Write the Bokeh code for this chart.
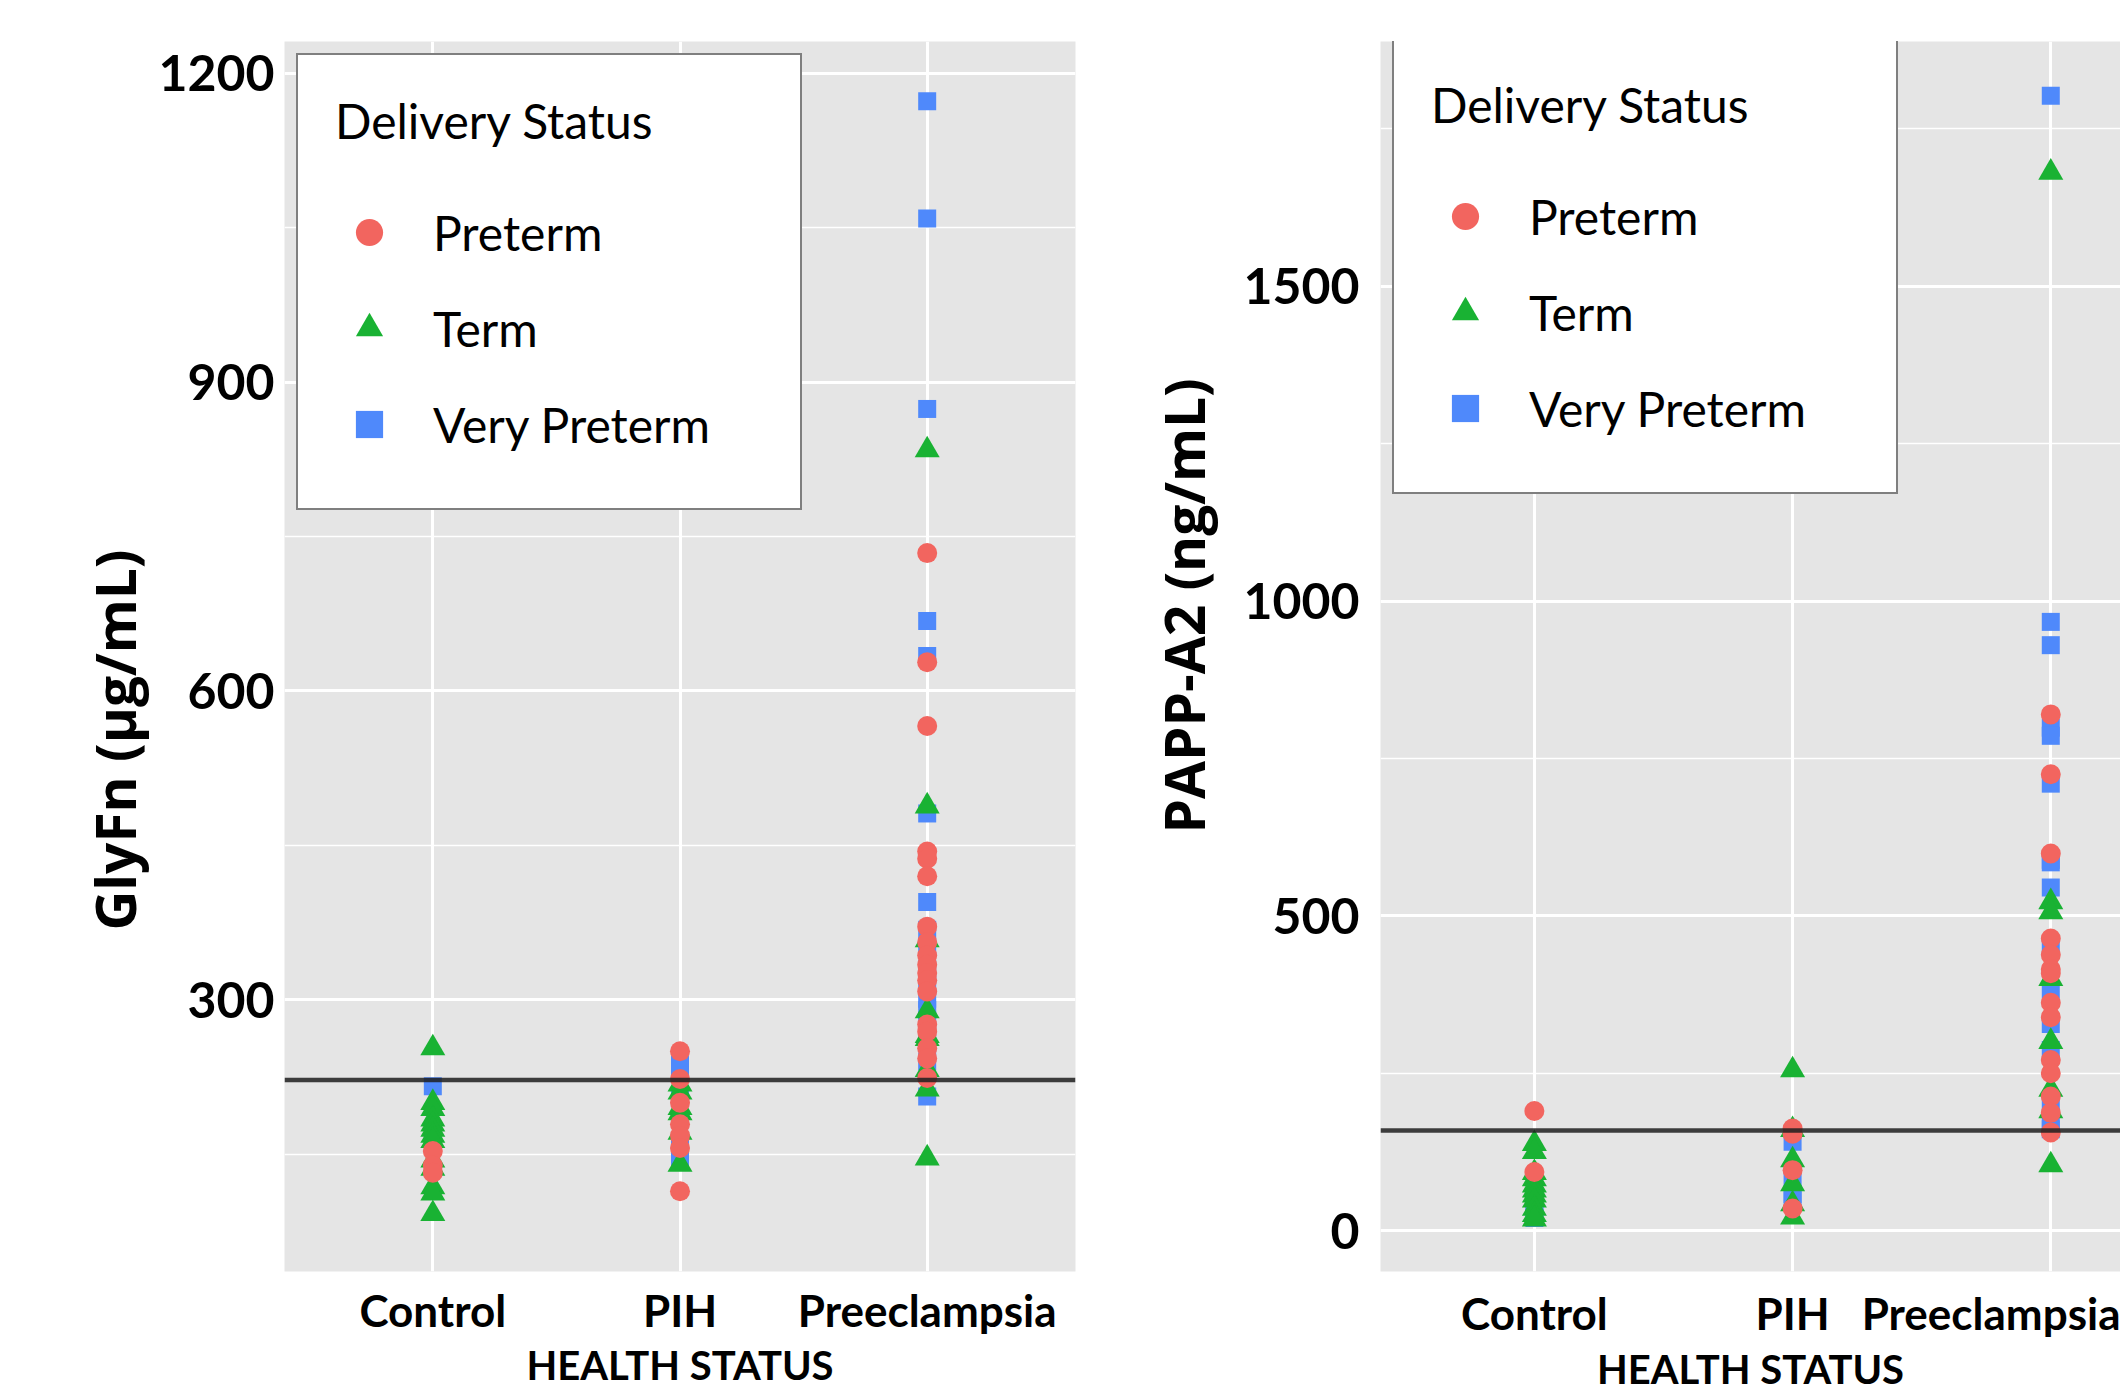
from bokeh.plotting import figure
from bokeh.models import Range1d, FixedTicker, Span, Legend, LegendItem, Title
from bokeh.layouts import row
from bokeh.embed import file_html
from bokeh.resources import INLINE

categories = ["Control", "PIH", "Preeclampsia"]
groups = ["Preterm", "Term", "Very Preterm"]
group_colors = ["#F2655F", "#19B233", "#4F89FB"]
group_markers = ["circle", "triangle", "square"]

# ---- Left panel: GlyFn (µg/mL) ----
glyfn_control_preterm = [153, 139, 132]
glyfn_control_term = [253, 200, 194, 184, 179, 174, 168, 163, 144, 136, 118, 112, 92]
glyfn_control_verypreterm = [216, 166]
glyfn_pih_preterm = [250, 223, 200, 179, 168, 156, 114]
glyfn_pih_term = [218, 210, 195, 190, 171, 140]
glyfn_pih_verypreterm = [237, 228, 205, 161, 144]
glyfn_pe_preterm = [734, 628, 566, 444, 437, 420, 371, 356, 343, 334, 326, 319, 308,
                    276, 269, 253, 243, 224]
glyfn_pe_term = [834, 488, 358, 289, 265, 262, 232, 213, 146]
glyfn_pe_verypreterm = [1173, 1059, 874, 668, 634, 481, 395, 368, 350, 330, 314, 301,
                        290, 280, 258, 240, 206]
glyfn_threshold = 222
glyfn_major_ticks = [300, 600, 900, 1200]
glyfn_minor_ticks = [150, 450, 750, 1050]

# ---- Right panel: PAPP-A2 (ng/mL) ----
pappa2_control_preterm = [190, 93]
pappa2_control_term = [138, 125, 92, 82, 72, 64, 56, 48, 35, 25, 18]
pappa2_control_verypreterm = [45, 27, 20]
pappa2_pih_preterm = [162, 154, 96, 35]
pappa2_pih_term = [255, 160, 112, 74, 42, 21]
pappa2_pih_verypreterm = [141, 82, 58, 48]
pappa2_pe_preterm = [820, 725, 599, 464, 438, 415, 409, 362, 339, 271, 250, 213, 187, 156]
pappa2_pe_term = [1681, 522, 506, 400, 300, 224, 190, 104]
pappa2_pe_verypreterm = [1803, 967, 930, 799, 786, 710, 589, 585, 545, 451, 383, 328,
                         287, 203, 171, 161]
pappa2_threshold = 159
pappa2_major_ticks = [0, 500, 1000, 1500]
pappa2_minor_ticks = [250, 750, 1250, 1750]

glyfn_data = {
    "Preterm": [glyfn_control_preterm, glyfn_pih_preterm, glyfn_pe_preterm],
    "Term": [glyfn_control_term, glyfn_pih_term, glyfn_pe_term],
    "Very Preterm": [glyfn_control_verypreterm, glyfn_pih_verypreterm, glyfn_pe_verypreterm],
}
pappa2_data = {
    "Preterm": [pappa2_control_preterm, pappa2_pih_preterm, pappa2_pe_preterm],
    "Term": [pappa2_control_term, pappa2_pih_term, pappa2_pe_term],
    "Very Preterm": [pappa2_control_verypreterm, pappa2_pih_verypreterm, pappa2_pe_verypreterm],
}


def make_panel(width, min_left, min_right, min_bottom, x_start, x_end, y_start, y_end,
               major, minor, data, threshold, ylabel, title_offset, title_standoff,
               ytick_standoff, tick_standoff, label_standoff, legend_loc, legend_margin):
    p = figure(width=width, height=1395, output_backend="svg", toolbar_location=None,
               x_range=Range1d(x_start, x_end), y_range=Range1d(y_start, y_end),
               min_border_left=min_left, min_border_right=min_right,
               min_border_top=41, min_border_bottom=min_bottom)
    p.background_fill_color = "#E5E5E5"
    p.border_fill_color = "white"
    p.outline_line_color = None

    # axes
    p.xaxis.ticker = FixedTicker(ticks=[1, 2, 3])
    p.xaxis.major_label_overrides = {i + 1: c for i, c in enumerate(categories)}
    p.yaxis.ticker = FixedTicker(ticks=major, minor_ticks=minor)
    for ax in (p.xaxis, p.yaxis):
        ax.axis_line_color = None
        ax.major_tick_line_color = None
        ax.minor_tick_line_color = None
        ax.major_label_text_font = "Lato"
        ax.major_label_text_font_style = "bold"
        ax.major_label_text_color = "black"
    p.yaxis.major_label_text_font_size = "50px"
    p.yaxis.major_label_standoff = ytick_standoff
    p.xaxis.major_label_text_font_size = "44px"
    p.xaxis.major_label_standoff = tick_standoff
    p.xaxis.axis_label = "HEALTH STATUS"
    p.xaxis.axis_label_text_font = "Lato"
    p.xaxis.axis_label_text_font_style = "bold"
    p.xaxis.axis_label_text_font_size = "40px"
    p.xaxis.axis_label_text_color = "black"
    p.xaxis.axis_label_standoff = label_standoff

    # y-axis title
    p.add_layout(Title(text=ylabel, align="left", offset=title_offset,
                       standoff=title_standoff, text_font="Open Sans",
                       text_font_style="bold", text_font_size="55px",
                       text_color="black"), "left")

    # grid
    p.xgrid.grid_line_color = "white"
    p.xgrid.grid_line_width = 3
    p.ygrid.grid_line_color = "white"
    p.ygrid.grid_line_width = 3
    p.ygrid.minor_grid_line_color = "white"
    p.ygrid.minor_grid_line_width = 1.6

    # points (drawn blue, green, red)
    renderers = {}
    for g in ["Very Preterm", "Term", "Preterm"]:
        gi = groups.index(g)
        xs, ys = [], []
        for ci, vals in enumerate(data[g]):
            xs += [ci + 1] * len(vals)
            ys += vals
        size = {"circle": 20, "triangle": 25, "square": 18}[group_markers[gi]]
        renderers[g] = p.scatter(xs, ys, marker=group_markers[gi], size=size,
                                 fill_color=group_colors[gi], line_color=None)

    p.add_layout(Span(location=threshold, dimension="width", line_color="#1E1E1E",
                      line_width=4.5, line_alpha=0.85))

    legend = Legend(items=[LegendItem(label=g, renderers=[renderers[g]]) for g in groups],
                    title="Delivery Status", location=legend_loc)
    legend.margin = legend_margin
    legend.border_line_color = "black"
    legend.border_line_width = 2
    legend.background_fill_color = "white"
    legend.background_fill_alpha = 1
    legend.padding = 37
    legend.spacing = 2
    legend.label_height = 94
    legend.glyph_height = 94
    legend.glyph_width = 68
    legend.label_standoff = 30
    legend.label_width = 330
    legend.label_text_font = "Lato"
    legend.label_text_font_size = "48px"
    legend.label_text_color = "black"
    legend.title_text_font = "Lato"
    legend.title_text_font_size = "48px"
    legend.title_text_font_style = "normal"
    legend.title_text_color = "black"
    legend.title_standoff = 36
    p.add_layout(legend)
    return p


left = make_panel(1123, 284, 48, 121, 0.4, 3.6, 36, 1231, glyfn_major_ticks,
                  glyfn_minor_ticks, glyfn_data, glyfn_threshold, "GlyFn (µg/mL)",
                  341, 8, 4, 6, 2, "top_left", 12)
right = make_panel(997, 256, 0, 121, 0.404, 3.27, -65, 1889, pappa2_major_ticks,
                   pappa2_minor_ticks, pappa2_data, pappa2_threshold, "PAPP-A2 (ng/mL)",
                   438, 40, 15, 9, 3, (12, 777), 0)

layout = row(left, right)
open("out.html", "w").write(file_html(layout, INLINE))
